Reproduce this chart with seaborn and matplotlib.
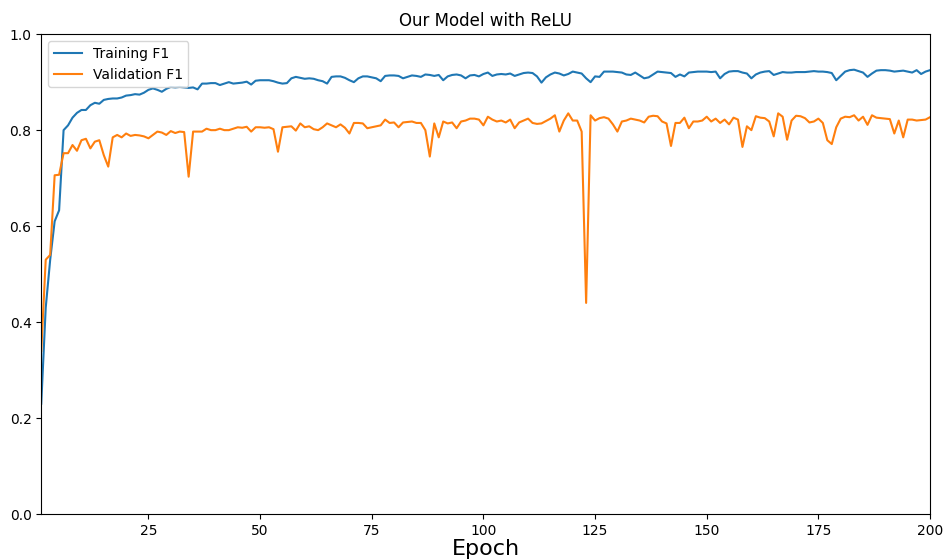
import numpy as np
import pandas as pd
import matplotlib
matplotlib.use("Agg")
import matplotlib.pyplot as plt
import seaborn as sns

# per-epoch F1 scores
train_f1 = [
    0.23, 0.43, 0.53, 0.61, 0.633, 0.80, 0.81, 0.826, 0.836, 0.842,
    0.842, 0.852, 0.857, 0.855, 0.863, 0.865, 0.866, 0.866, 0.868, 0.872,
    0.873, 0.875, 0.874, 0.878, 0.884, 0.887, 0.884, 0.880, 0.886, 0.890,
    0.889, 0.890, 0.889, 0.888, 0.889, 0.885, 0.897, 0.897, 0.898, 0.898,
    0.894, 0.897, 0.900, 0.897, 0.898, 0.899, 0.901, 0.895, 0.903, 0.904,
    0.904, 0.904, 0.902, 0.899, 0.897, 0.898, 0.908, 0.911, 0.909, 0.907,
    0.908, 0.907, 0.904, 0.902, 0.897, 0.911, 0.912, 0.912, 0.909, 0.904,
    0.900, 0.908, 0.912, 0.912, 0.910, 0.908, 0.902, 0.913, 0.914, 0.914,
    0.913, 0.908, 0.911, 0.914, 0.913, 0.911, 0.916, 0.915, 0.913, 0.915,
    0.904, 0.912, 0.915, 0.916, 0.914, 0.908, 0.914, 0.915, 0.912, 0.917,
    0.920, 0.913, 0.916, 0.917, 0.916, 0.918, 0.913, 0.916, 0.919, 0.920,
    0.919, 0.912, 0.899, 0.910, 0.916, 0.920, 0.918, 0.914, 0.917, 0.922,
    0.920, 0.918, 0.908, 0.900, 0.912, 0.911, 0.922, 0.922, 0.922, 0.921,
    0.920, 0.916, 0.915, 0.920, 0.914, 0.908, 0.910, 0.916, 0.922, 0.921,
    0.920, 0.919, 0.911, 0.916, 0.912, 0.920, 0.921, 0.922, 0.922, 0.922,
    0.921, 0.922, 0.908, 0.917, 0.922, 0.923, 0.923, 0.920, 0.918, 0.908,
    0.916, 0.920, 0.922, 0.923, 0.915, 0.918, 0.921, 0.920, 0.920, 0.921,
    0.921, 0.921, 0.922, 0.923, 0.922, 0.922, 0.921, 0.919, 0.904, 0.913,
    0.922, 0.925, 0.926, 0.923, 0.920, 0.911, 0.918, 0.924, 0.925, 0.925,
    0.924, 0.922, 0.923, 0.924, 0.922, 0.920, 0.925, 0.917, 0.922, 0.925,
]

valid_f1 = [
    0.34, 0.53, 0.54, 0.706, 0.707, 0.752, 0.752, 0.769, 0.757, 0.779,
    0.782, 0.762, 0.776, 0.779, 0.748, 0.724, 0.785, 0.790, 0.785, 0.793,
    0.788, 0.790, 0.789, 0.787, 0.783, 0.790, 0.797, 0.795, 0.790, 0.798,
    0.794, 0.797, 0.796, 0.703, 0.797, 0.797, 0.797, 0.803, 0.800, 0.800,
    0.803, 0.800, 0.800, 0.803, 0.806, 0.805, 0.807, 0.797, 0.806, 0.806,
    0.805, 0.806, 0.802, 0.755, 0.806, 0.807, 0.808, 0.799, 0.814, 0.806,
    0.808, 0.802, 0.800, 0.806, 0.814, 0.810, 0.806, 0.812, 0.805, 0.793,
    0.815, 0.815, 0.814, 0.804, 0.806, 0.808, 0.810, 0.822, 0.815, 0.816,
    0.806, 0.816, 0.817, 0.818, 0.815, 0.815, 0.800, 0.745, 0.814, 0.785,
    0.818, 0.814, 0.816, 0.804, 0.818, 0.820, 0.824, 0.824, 0.822, 0.810,
    0.828, 0.822, 0.818, 0.820, 0.816, 0.822, 0.804, 0.816, 0.820, 0.824,
    0.815, 0.813, 0.814, 0.819, 0.824, 0.831, 0.797, 0.820, 0.835, 0.820,
    0.820, 0.797, 0.440, 0.831, 0.820, 0.825, 0.827, 0.824, 0.812, 0.797,
    0.818, 0.820, 0.824, 0.822, 0.820, 0.816, 0.828, 0.830, 0.829, 0.818,
    0.814, 0.767, 0.815, 0.815, 0.826, 0.804, 0.818, 0.818, 0.820, 0.828,
    0.818, 0.824, 0.815, 0.822, 0.812, 0.826, 0.822, 0.765, 0.808, 0.800,
    0.829, 0.826, 0.825, 0.818, 0.787, 0.835, 0.828, 0.780, 0.820, 0.830,
    0.829, 0.825, 0.816, 0.818, 0.824, 0.815, 0.779, 0.771, 0.806, 0.824,
    0.828, 0.827, 0.831, 0.820, 0.828, 0.811, 0.831, 0.826, 0.825, 0.824,
    0.823, 0.793, 0.820, 0.785, 0.822, 0.822, 0.820, 0.821, 0.822, 0.827,
]

epochs = np.arange(1, len(train_f1) + 1)
df = pd.DataFrame({"epoch": epochs, "train": train_f1, "valid": valid_f1})

fig = plt.figure(figsize=(9.44, 5.6), dpi=100)
ax = fig.add_axes([0.0437, 0.082, 0.9415, 0.857])

sns.lineplot(data=df, x="epoch", y="train", ax=ax, color="#1f77b4", label="Training F1")
sns.lineplot(data=df, x="epoch", y="valid", ax=ax, color="#ff7f0e", label="Validation F1")

ax.set_xlim(1, 200)
ax.set_ylim(0, 1.0)
ax.set_title("Our Model with ReLU", fontsize=12)
ax.set_xlabel("Epoch", fontsize=16, labelpad=1)
ax.set_ylabel("")
ax.legend(loc="upper left")

fig.savefig("out.png", dpi=100)
